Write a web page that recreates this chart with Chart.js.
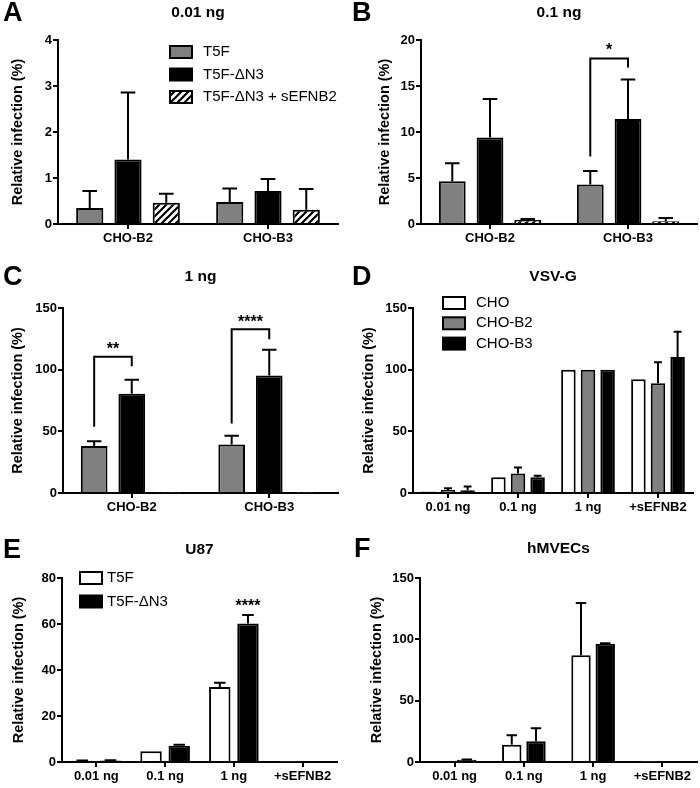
<!DOCTYPE html>
<html>
<head>
<meta charset="utf-8">
<script src="https://cdn.jsdelivr.net/npm/chart.js@4.4.1/dist/chart.umd.min.js"></script>
<style>
body { margin: 0; background: #fff; }
#fig { position: relative; width: 700px; height: 788px; }
#fig canvas { position: absolute; }
</style>
</head>
<body>
<div id="fig">
  <canvas id="pA" width="350" height="262" style="left:0;top:0"></canvas>
  <canvas id="pB" width="350" height="262" style="left:350px;top:0"></canvas>
  <canvas id="pC" width="350" height="263" style="left:0;top:262px"></canvas>
  <canvas id="pD" width="350" height="263" style="left:350px;top:262px"></canvas>
  <canvas id="pE" width="350" height="263" style="left:0;top:525px"></canvas>
  <canvas id="pF" width="350" height="263" style="left:350px;top:525px"></canvas>
</div>
<script>
// categories
const cellLines = ['CHO-B2', 'CHO-B3'];
const doses = ['0.01 ng', '0.1 ng', '1 ng', '+sEFNB2'];

// A - 0.01 ng (mean, sd)
const aT5F = [0.35, 0.48], aT5FErr = [0.37, 0.29];
const aDN3 = [1.40, 0.72], aDN3Err = [1.46, 0.26];
const aSol = [0.46, 0.31], aSolErr = [0.20, 0.45];

// B - 0.1 ng
const bT5F = [4.65, 4.3], bT5FErr = [1.95, 1.45];
const bDN3 = [9.4, 11.4], bDN3Err = [4.2, 4.3];
const bSol = [0.44, 0.3], bSolErr = [0.11, 0.35];
const bSig = [{ cat: 1, from: 7.35, top: 18.0, to: 17.0, text: '*', at: 19.3 }];

// C - 1 ng
const cT5F = [38.2, 39.3], cT5FErr = [3.8, 7.1];
const cDN3 = [80.4, 95.2], cDN3Err = [11.5, 21];
const cSol = [0.4, 0.4], cSolErr = [0, 0];
const cSig = [
  { cat: 0, from: 53.7, top: 110.4, to: 102.8, text: '**', at: 119.7 },
  { cat: 1, from: 56.4, top: 132.8, to: 124.6, text: '****', at: 141.5 }
];

// D - VSV-G
const dCHO = [1.2, 12.8, 100, 92.3], dCHOErr = [0, 0, 0, 0];
const dB2 = [2.5, 15.8, 100, 89], dB2Err = [1.3, 4.9, 0, 17];
const dB3 = [2.3, 12.8, 100, 110.3], dB3Err = [3.0, 1.1, 0, 20.4];

// E - U87
const eT5F = [0.5, 4.65, 32.6, 0.2], eT5FErr = [0.1, 0, 1.9, 0];
const eDN3 = [0.7, 7.1, 60.2, 0.4], eDN3Err = [0.1, 0.4, 3.7, 0];
const eSig = [{ cat: 2, text: '****', at: 69.4 }];

// F - hMVECs
const fT5F = [0.8, 14, 87, 0.4], fT5FErr = [0, 7.9, 42.7, 0];
const fDN3 = [1.8, 17, 96.5, 0], fDN3Err = [0.3, 10.6, 0.3, 0];

const FONT = '"Liberation Sans", Arial, Helvetica, sans-serif';
Chart.defaults.font.family = FONT;
Chart.defaults.color = '#000';

function hatch() {
  const c = document.createElement('canvas');
  c.width = 7; c.height = 7;
  const g = c.getContext('2d');
  g.fillStyle = '#fff';
  g.fillRect(0, 0, 7, 7);
  g.strokeStyle = '#000';
  g.lineWidth = 2.2;
  g.beginPath();
  g.moveTo(-1, 8); g.lineTo(8, -1);
  g.moveTo(-1, 1); g.lineTo(1, -1);
  g.moveTo(6, 8); g.lineTo(8, 6);
  g.stroke();
  return g.createPattern(c, 'repeat');
}
const GREY = '#808080';
const HATCH = hatch();

const errorBars = {
  id: 'errorBars',
  afterDatasetsDraw(chart) {
    const ctx = chart.ctx, y = chart.scales.y;
    ctx.save();
    ctx.strokeStyle = '#000';
    ctx.lineWidth = 2;
    chart.data.datasets.forEach((ds, i) => {
      if (!ds.err) return;
      chart.getDatasetMeta(i).data.forEach((bar, j) => {
        const e = ds.err[j];
        if (!e) return;
        const top = y.getPixelForValue(ds.data[j] + e);
        const half = bar.width * 0.27;
        ctx.beginPath();
        ctx.moveTo(bar.x, bar.y);
        ctx.lineTo(bar.x, top);
        ctx.moveTo(bar.x - half, top);
        ctx.lineTo(bar.x + half, top);
        ctx.stroke();
      });
    });
    ctx.restore();
  }
};

const brackets = {
  id: 'brackets',
  afterDatasetsDraw(chart, args, o) {
    if (!o.items) return;
    const ctx = chart.ctx, y = chart.scales.y;
    ctx.save();
    ctx.strokeStyle = '#000';
    ctx.fillStyle = '#000';
    ctx.lineWidth = 2;
    o.items.forEach(b => {
      const x1 = chart.getDatasetMeta(0).data[b.cat].x;
      const x2 = chart.getDatasetMeta(1).data[b.cat].x;
      let sx = x2;
      if (b.top != null) {
        ctx.beginPath();
        ctx.moveTo(x1, y.getPixelForValue(b.from));
        ctx.lineTo(x1, y.getPixelForValue(b.top));
        ctx.lineTo(x2, y.getPixelForValue(b.top));
        ctx.lineTo(x2, y.getPixelForValue(b.to));
        ctx.stroke();
        sx = (x1 + x2) / 2;
      }
      ctx.font = 'bold 16px ' + FONT;
      ctx.textAlign = 'center';
      ctx.textBaseline = 'alphabetic';
      ctx.fillText(b.text, sx, y.getPixelForValue(b.at) + 9);
    });
    ctx.restore();
  }
};

const boxLegend = {
  id: 'boxLegend',
  afterDraw(chart, args, o) {
    if (o.x == null) return;
    const ctx = chart.ctx;
    ctx.save();
    ctx.font = '15px ' + FONT;
    ctx.textBaseline = 'middle';
    ctx.textAlign = 'left';
    chart.data.datasets.forEach((ds, i) => {
      const cy = o.y + i * o.row;
      ctx.fillStyle = ds.backgroundColor;
      ctx.fillRect(o.x, cy - 6, 22, 12);
      ctx.strokeStyle = '#000';
      ctx.lineWidth = 2;
      ctx.strokeRect(o.x, cy - 6, 22, 12);
      ctx.fillStyle = '#000';
      ctx.fillText(ds.label, o.x + o.gap, cy);
    });
    ctx.restore();
  }
};

const panelText = {
  id: 'panelText',
  afterDraw(chart, args, o) {
    const ctx = chart.ctx, a = chart.chartArea;
    ctx.save();
    ctx.fillStyle = '#000';
    ctx.textBaseline = 'middle';
    ctx.textAlign = 'left';
    ctx.font = 'bold 27px ' + FONT;
    ctx.fillText(o.letter, o.lx, o.y + 1);
    ctx.textAlign = 'center';
    ctx.font = 'bold 15.5px ' + FONT;
    ctx.fillText(o.title, (a.left + a.right) / 2, o.y);
    ctx.restore();
  }
};

function bars(label, data, err, color) {
  return { label: label, data: data, err: err, backgroundColor: color, borderColor: '#000', borderWidth: 2 };
}

function panel(id, labels, datasets, o) {
  return new Chart(document.getElementById(id), {
    type: 'bar',
    data: { labels: labels, datasets: datasets },
    plugins: [errorBars, brackets, boxLegend, panelText],
    options: {
      responsive: false,
      animation: false,
      layout: { padding: { left: 0, top: o.top, right: o.right, bottom: 0 } },
      datasets: { bar: { barPercentage: o.barPct, categoryPercentage: o.catPct } },
      plugins: {
        legend: { display: false },
        tooltip: { enabled: false },
        brackets: { items: o.sig },
        boxLegend: o.legend || {},
        panelText: { letter: o.letter, title: o.title, y: o.ty, lx: o.lx }
      },
      scales: {
        x: {
          grid: { drawOnChartArea: false, offset: false, color: '#000', lineWidth: 2, tickLength: 5 },
          border: { display: true, color: '#000', width: 2 },
          ticks: { color: '#000', font: { size: 13, weight: 'bold' }, padding: 2, maxRotation: 0 },
          afterFit: s => { s.height = o.xH; }
        },
        y: {
          min: 0,
          max: o.max,
          ticks: { stepSize: o.step, color: '#000', font: { size: 13, weight: 'bold' }, padding: 1 },
          grid: { drawOnChartArea: false, color: '#000', lineWidth: 2, tickLength: 5 },
          border: { display: true, color: '#000', width: 2 },
          title: {
            display: true, text: 'Relative infection (%)', color: '#000',
            font: { size: 14.5, weight: 'bold' }, padding: { top: o.titlePad, bottom: 0 }
          },
          afterFit: s => { s.width = o.yW; }
        }
      }
    }
  });
}

panel('pA', cellLines, [
  bars('T5F', aT5F, aT5FErr, GREY),
  bars('T5F-\u0394N3', aDN3, aDN3Err, '#000'),
  bars('T5F-\u0394N3 + sEFNB2', aSol, aSolErr, HATCH)
], { max: 4, step: 1, yW: 58, top: 40, xH: 38, right: 12, titlePad: 9, barPct: 0.71, catPct: 0.82,
     letter: 'A', title: '0.01 ng', ty: 13, lx: 3,
     legend: { x: 170, y: 52, row: 22.5, gap: 33 } });

panel('pB', cellLines, [
  bars('T5F', bT5F, bT5FErr, GREY),
  bars('T5F-\u0394N3', bDN3, bDN3Err, '#000'),
  bars('T5F-\u0394N3 + sEFNB2', bSol, bSolErr, HATCH)
], { max: 20, step: 5, yW: 71, top: 40, xH: 38, right: 3, titlePad: 26, barPct: 0.71, catPct: 0.82,
     letter: 'B', title: '0.1 ng', ty: 13, lx: 2, sig: bSig });

panel('pC', cellLines, [
  bars('T5F', cT5F, cT5FErr, GREY),
  bars('T5F-\u0394N3', cDN3, cDN3Err, '#000'),
  bars('T5F-\u0394N3 + sEFNB2', cSol, cSolErr, HATCH)
], { max: 150, step: 50, yW: 63, top: 46, xH: 32, right: 12, titlePad: 9, barPct: 0.71, catPct: 0.82,
     letter: 'C', title: '1 ng', ty: 15, lx: 3, sig: cSig });

panel('pD', doses, [
  bars('CHO', dCHO, dCHOErr, '#fff'),
  bars('CHO-B2', dB2, dB2Err, GREY),
  bars('CHO-B3', dB3, dB3Err, '#000')
], { max: 150, step: 50, yW: 63, top: 46, xH: 32, right: 7, titlePad: 10, barPct: 0.74, catPct: 0.84,
     letter: 'D', title: 'VSV-G', ty: 15, lx: 2,
     legend: { x: 93, y: 41, row: 20.3, gap: 33 } });

panel('pE', doses, [
  bars('T5F', eT5F, eT5FErr, '#fff'),
  bars('T5F-\u0394N3', eDN3, eDN3Err, '#000')
], { max: 80, step: 20, yW: 62, top: 53, xH: 26, right: 13, titlePad: 10, barPct: 0.76, catPct: 0.82,
     letter: 'E', title: 'U87', ty: 25, lx: 3, sig: eSig,
     legend: { x: 80, y: 53, row: 23.5, gap: 27 } });

panel('pF', doses, [
  bars('T5F', fT5F, fT5FErr, '#fff'),
  bars('T5F-\u0394N3', fDN3, fDN3Err, '#000')
], { max: 150, step: 50, yW: 70, top: 53, xH: 26, right: 3, titlePad: 18, barPct: 0.8, catPct: 0.7,
     letter: 'F', title: 'hMVECs', ty: 24, lx: 4 });
</script>
</body>
</html>
